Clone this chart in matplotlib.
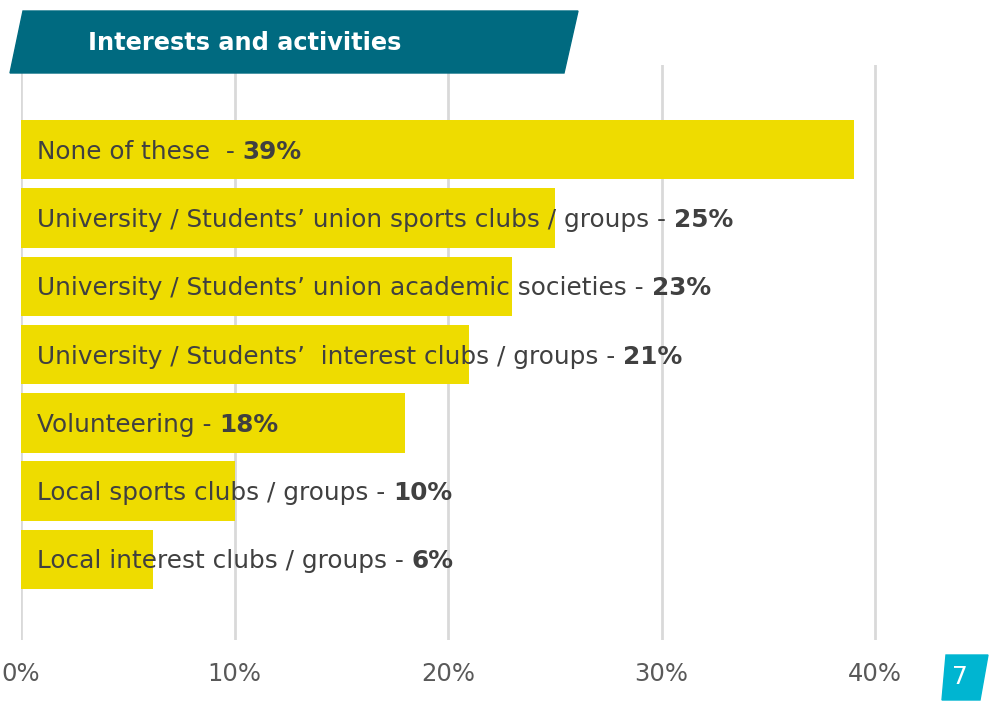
import matplotlib.pyplot as plt
from matplotlib.patches import Polygon

labels = ["None of these  - ",
          "University / Students\u2019 union sports clubs / groups - ",
          "University / Students\u2019 union academic societies - ",
          "University / Students\u2019  interest clubs / groups - ",
          "Volunteering - ",
          "Local sports clubs / groups - ",
          "Local interest clubs / groups - "]
values = [39, 25, 23, 21, 18, 10, 6.2]
value_text = ["39%", "25%", "23%", "21%", "18%", "10%", "6%"]
ticks = [0, 10, 20, 30, 40]
tick_labels = ["0%", "10%", "20%", "30%", "40%"]
title = "Interests and activities"
page = "7"

W, H = 989, 701
fig = plt.figure(figsize=(W / 100, H / 100), dpi=100)

# axes: 0% at x=21px, 21.35px per %, grid from y=65 to y=640
x0, ppu = 21, 21.35
xmax = 41
ax = fig.add_axes([x0 / W, 61 / H, xmax * ppu / W, (640 - 65) / H])
ax.set_xlim(0, xmax)
ax.set_ylim(7.18, -1.24)

ypos = list(range(len(values)))
ax.barh(ypos, values, height=0.87, color="#eedc00", zorder=2)
for t in ticks:
    ax.axvline(t, color="#d9d9d9", lw=2, zorder=1)

for y, lab, vt in zip(ypos, labels, value_text):
    t1 = ax.text(0.75, y + 0.03, lab, va="center", ha="left", fontsize=17.8,
                 color="#404040", zorder=3)
    ax.annotate(vt, xy=(1, 0), xycoords=t1, va="bottom", ha="left",
                fontsize=17.8, color="#404040", fontweight="bold", zorder=3)

ax.set_xticks(ticks)
ax.set_xticklabels(tick_labels, fontsize=17.5, color="#595959")
ax.tick_params(axis="x", length=0, pad=16)
ax.set_yticks([])
for s in ax.spines.values():
    s.set_visible(False)

# title banner
def px(x, y):
    return (x / W, 1 - y / H)

banner = Polygon([px(10, 73), px(23, 11), px(578, 11), px(564, 73)],
                 closed=True, transform=fig.transFigure, color="#006a80")
fig.patches.append(banner)
fig.text(88 / W, 1 - 43 / H, title, color="white", fontsize=17.3,
         fontweight="bold", va="center", ha="left")

# page badge
badge = Polygon([px(942, 700), px(946, 655), px(988, 655), px(980, 700)],
                closed=True, transform=fig.transFigure, color="#00b5d1")
fig.patches.append(badge)
fig.text(960 / W, 1 - 677 / H, page, color="white", fontsize=18,
         va="center", ha="center")

fig.savefig("out.png", dpi=100)
